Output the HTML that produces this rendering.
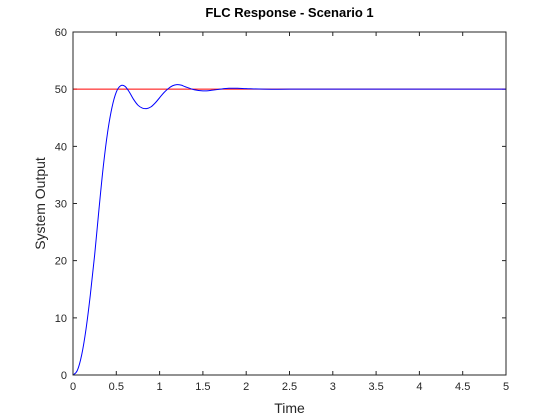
<!DOCTYPE html>
<html><head><meta charset="utf-8"><style>
body{margin:0;background:#fff;}
svg{display:block;font-family:"Liberation Sans",Arial,sans-serif;}
</style></head><body>
<svg id="chart" width="560" height="420">
<rect x="0" y="0" width="560" height="420" fill="#fff"/>
<rect x="73" y="32" width="433" height="343" fill="#fff"/>
<g id="ticks"></g>
<g id="series"></g>
<rect x="73" y="32" width="433" height="343" fill="none" stroke="#262626" stroke-width="1"/>
<text x="289.5" y="17" text-anchor="middle" font-size="13" font-weight="bold" fill="#000">FLC Response - Scenario 1</text>
<text x="289.5" y="413" text-anchor="middle" font-size="14" fill="#262626">Time</text>
<text transform="translate(45,203.5) rotate(-90)" text-anchor="middle" font-size="14" fill="#262626">System Output</text>
</svg>
<script>
const xTicks=[0,0.5,1,1.5,2,2.5,3,3.5,4,4.5,5];
const yTicks=[0,10,20,30,40,50,60];
const times=[0,0.05,0.1,0.15,0.2,0.25,0.3,0.35,0.4,0.45,0.5,0.55,0.6,0.65,0.7,0.75,0.8,0.85,0.9,0.95,1.0,1.05,1.1,1.15,1.2,1.25,1.3,1.4,1.5,1.6,1.7,1.8,1.9,2.0,2.2,2.5,3,5];
const outputs=[0,0.8,3.5,8,14,21,29,36.5,42.5,46.8,49.5,50.6,50.5,49.5,48.2,47.2,46.7,46.6,46.9,47.6,48.5,49.4,50.1,50.6,50.8,50.7,50.4,49.9,49.7,49.8,50.0,50.15,50.15,50.1,50.0,50,50,50];
const setpoint=[50];
const X0=73,X1=506,Y0=375,Y1=32;
const sx=v=>X0+(v-0)/(5-0)*(X1-X0);
const sy=v=>Y0-(v-0)/(60-0)*(Y0-Y1);
const NS="http://www.w3.org/2000/svg";
const tg=document.getElementById('ticks');
function mk(tag,attrs,parent){const e=document.createElementNS(NS,tag);for(const k in attrs)e.setAttribute(k,attrs[k]);parent.appendChild(e);return e;}
xTicks.forEach(v=>{
  const x=sx(v);
  let l=mk('path',{d:`M${x},${Y0}v-4M${x},${Y1}v4`,stroke:'#262626','stroke-width':1,fill:'none'},tg);
  
  
  let t=mk('text',{x:x,y:Y0+15,'text-anchor':'middle','font-size':11,fill:'#262626'},tg);
  t.textContent=String(v);
  
  
});
yTicks.forEach(v=>{
  const y=sy(v);
  let l=mk('path',{d:`M${X0},${y}h4M${X1},${y}h-4`,stroke:'#262626','stroke-width':1,fill:'none'},tg);
  
  
  let t=mk('text',{x:X0-6,y:y+4,'text-anchor':'end','font-size':11,fill:'#262626'},tg);
  t.textContent=String(v);
  
  
});
const sg=document.getElementById('series');
let ref=mk('line',{x1:sx(0),x2:sx(5),y1:sy(setpoint[0]),y2:sy(setpoint[0]),stroke:'#ff0000','stroke-width':1},sg);


const P=times.map((t,i)=>[sx(t),sy(outputs[i])]);
let d=`M${P[0][0]},${P[0][1]}`;
for(let i=0;i<P.length-1;i++){
  const p0=P[i-1]||P[i],p1=P[i],p2=P[i+1],p3=P[i+2]||P[i+1];
  const c1=[p1[0]+(p2[0]-p0[0])/6,p1[1]+(p2[1]-p0[1])/6];
  const c2=[p2[0]-(p3[0]-p1[0])/6,p2[1]-(p3[1]-p1[1])/6];
  d+=`C${c1[0]},${c1[1]} ${c2[0]},${c2[1]} ${p2[0]},${p2[1]}`;
}
let line=mk('path',{d:d,stroke:'#0000ff','stroke-width':1,fill:'none'},sg);


</script>
</body></html>
